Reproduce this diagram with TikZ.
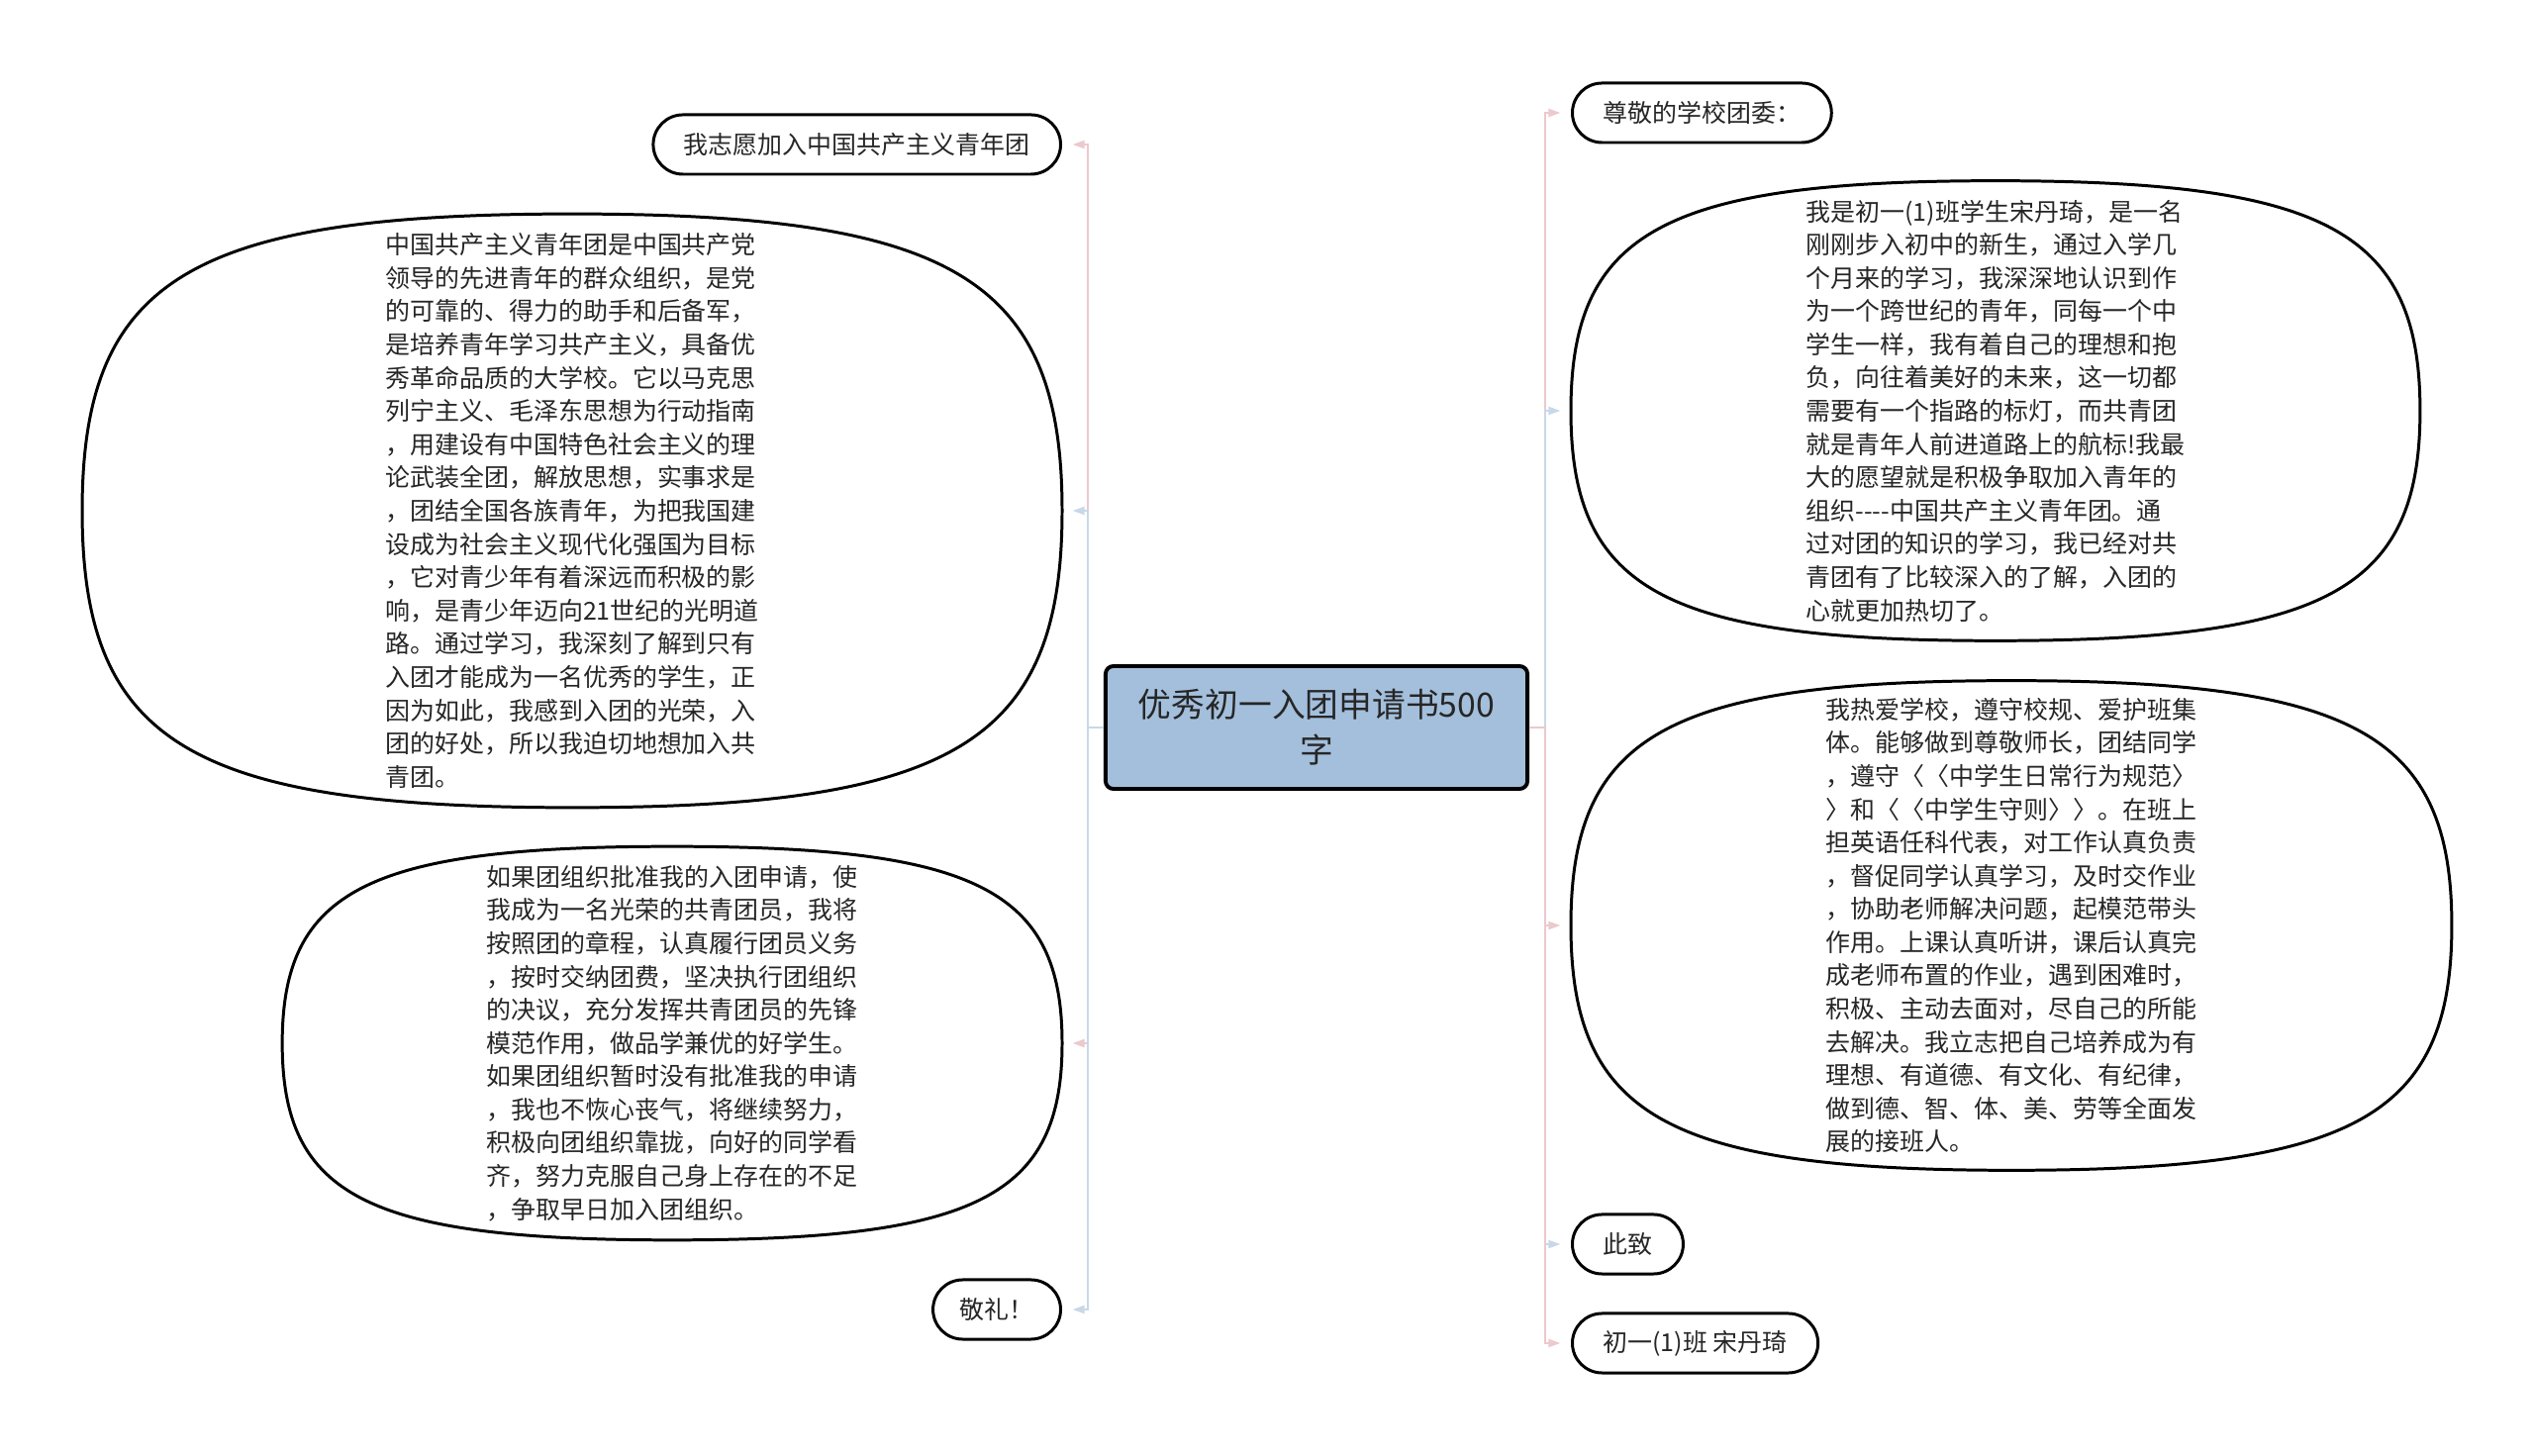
\documentclass[tikz,border=0pt]{standalone}
\usepackage{fontspec}
\usepackage{tikz}
\usetikzlibrary{arrows.meta,positioning,calc}
\newfontfamily\cjk{Noto Sans CJK SC}
\definecolor{rootblue}{HTML}{A3BFDC}
\definecolor{linkpink}{HTML}{EBC9CD}
\definecolor{linkblue}{HTML}{C9D8E7}
\definecolor{ink}{HTML}{262626}
% rounded outline round a text node, #1 = how square the corners are
\newcommand\blob[2][0.78]{%
  \draw[shell] (#2.west)
    .. controls ($(#2.west)!#1!(#2.north west)$) and ($(#2.north)!#1!(#2.north west)$) .. (#2.north)
    .. controls ($(#2.north)!#1!(#2.north east)$) and ($(#2.east)!#1!(#2.north east)$) .. (#2.east)
    .. controls ($(#2.east)!#1!(#2.south east)$) and ($(#2.south)!#1!(#2.south east)$) .. (#2.south)
    .. controls ($(#2.south)!#1!(#2.south west)$) and ($(#2.west)!#1!(#2.south west)$) .. (#2.west) -- cycle;}

\begin{document}
\begin{tikzpicture}[
  x=0.01cm,y=0.01cm,
  pill/.style={draw,line width=0.85pt,rounded corners=0.3cm,minimum height=0.6cm,inner xsep=0.31cm,inner ysep=0pt,font=\cjk\fontsize{7.1pt}{9.55pt}\selectfont,text=ink},
  para/.style={align=left,inner sep=0pt,font=\cjk\fontsize{7.1pt}{9.55pt}\selectfont,text=ink},
  title/.style={draw,line width=1.1pt,rounded corners=0.08cm,fill=rootblue,align=center,minimum width=4.26cm,minimum height=1.24cm,font=\cjk\fontsize{9.6pt}{13pt}\selectfont,text=ink},
  shell/.style={line width=0.85pt,line join=round},
  link/.style={line width=0.6pt,shorten >=3,-{Triangle[length=0.12cm,width=0.08cm]}}
]
\useasboundingbox (0,0) rectangle (2560,-1471);

\node[title] (root) at (1330,-735) {优秀初一入团申请书500\\字};

% left side
\node[pill,anchor=east] (wish) at (1073,-146) {我志愿加入中国共产主义青年团};
\node[para,anchor=east,minimum width=9.88cm,minimum height=5.98cm] (intro) at (1073,-516) {%
中国共产主义青年团是中国共产党\\
领导的先进青年的群众组织，是党\\
的可靠的、得力的助手和后备军，\\
是培养青年学习共产主义，具备优\\
秀革命品质的大学校。它以马克思\\
列宁主义、毛泽东思想为行动指南\\
，用建设有中国特色社会主义的理\\
论武装全团，解放思想，实事求是\\
，团结全国各族青年，为把我国建\\
设成为社会主义现代化强国为目标\\
，它对青少年有着深远而积极的影\\
响，是青少年迈向21世纪的光明道\\
路。通过学习，我深刻了解到只有\\
入团才能成为一名优秀的学生，正\\
因为如此，我感到入团的光荣，入\\
团的好处，所以我迫切地想加入共\\
青团。};
\node[para,anchor=east,minimum width=7.86cm,minimum height=3.96cm] (pledge) at (1073,-1054) {%
如果团组织批准我的入团申请，使\\
我成为一名光荣的共青团员，我将\\
按照团的章程，认真履行团员义务\\
，按时交纳团费，坚决执行团组织\\
的决议，充分发挥共青团员的先锋\\
模范作用，做品学兼优的好学生。\\
如果团组织暂时没有批准我的申请\\
，我也不恢心丧气，将继续努力，\\
积极向团组织靠拢，向好的同学看\\
齐，努力克服自己身上存在的不足\\
，争取早日加入团组织。};
\node[pill,anchor=east,inner xsep=0.27cm] (salute) at (1073,-1323) {敬礼！};

% right side
\node[pill,anchor=west] (greet) at (1587,-114) {尊敬的学校团委：};
\node[para,anchor=west,minimum width=8.56cm,minimum height=4.63cm] (self) at (1587,-415) {%
我是初一(1)班学生宋丹琦，是一名\\
刚刚步入初中的新生，通过入学几\\
个月来的学习，我深深地认识到作\\
为一个跨世纪的青年，同每一个中\\
学生一样，我有着自己的理想和抱\\
负，向往着美好的未来，这一切都\\
需要有一个指路的标灯，而共青团\\
就是青年人前进道路上的航标!我最\\
大的愿望就是积极争取加入青年的\\
组织----中国共产主义青年团。通\\
过对团的知识的学习，我已经对共\\
青团有了比较深入的了解，入团的\\
心就更加热切了。};
\node[para,anchor=west,minimum width=8.88cm,minimum height=4.93cm] (deeds) at (1587,-935) {%
我热爱学校，遵守校规、爱护班集\\
体。能够做到尊敬师长，团结同学\\
，遵守〈〈中学生日常行为规范〉\\
〉和〈〈中学生守则〉〉。在班上\\
担英语任科代表，对工作认真负责\\
，督促同学认真学习，及时交作业\\
，协助老师解决问题，起模范带头\\
作用。上课认真听讲，课后认真完\\
成老师布置的作业，遇到困难时，\\
积极、主动去面对，尽自己的所能\\
去解决。我立志把自己培养成为有\\
理想、有道德、有文化、有纪律，\\
做到德、智、体、美、劳等全面发\\
展的接班人。};
\node[pill,anchor=west] (close) at (1587,-1257) {此致};
\node[pill,anchor=west] (sign) at (1587,-1357) {初一(1)班 宋丹琦};

\foreach \n in {intro,pledge,self,deeds} \blob{\n};

\foreach \n/\c in {wish/linkpink,intro/linkblue,pledge/linkpink,salute/linkblue}
  \draw[link,draw=\c] (root.west) -- ++(-16,0) |- (\n.east);
\foreach \n/\c in {greet/linkpink,self/linkblue,deeds/linkpink,close/linkblue,sign/linkpink}
  \draw[link,draw=\c] (root.east) -- ++(16,0) |- (\n.west);
\end{tikzpicture}
\end{document}
